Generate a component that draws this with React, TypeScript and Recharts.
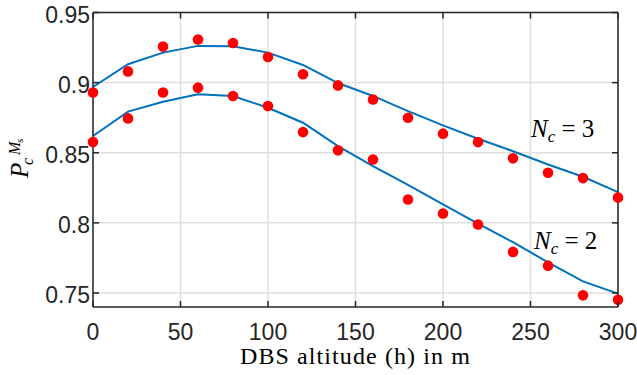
import React from "react";
import { CartesianGrid, Line, LineChart, XAxis, YAxis } from "recharts";

const altitude = [0, 20, 40, 60, 80, 100, 120, 140, 160, 180, 200, 220, 240, 260, 280, 300];

// N_c = 3
const nc3Sim = [0.893, 0.908, 0.9257, 0.9307, 0.9283, 0.9183, 0.906, 0.898, 0.888, 0.875, 0.8636, 0.8576, 0.846, 0.8357, 0.8319, 0.818];
const nc3Ana = [0.8969, 0.9131, 0.9214, 0.9262, 0.926, 0.9214, 0.9126, 0.8997, 0.8905, 0.8797, 0.8695, 0.86, 0.8511, 0.8416, 0.8329, 0.8219];

// N_c = 2
const nc2Sim = [0.8576, 0.8745, 0.893, 0.8964, 0.8905, 0.8833, 0.8647, 0.8517, 0.8452, 0.8167, 0.8067, 0.7988, 0.7793, 0.7695, 0.7483, 0.7452];
const nc2Ana = [0.8619, 0.8793, 0.8864, 0.8917, 0.8905, 0.8821, 0.8714, 0.8547, 0.8404, 0.827, 0.8131, 0.7995, 0.7862, 0.7719, 0.7583, 0.7495];

const xTicks = [0, 50, 100, 150, 200, 250, 300];
const yTicks = [0.75, 0.8, 0.85, 0.9, 0.95];
const yTickLabels = ["0.75", "0.8", "0.85", "0.9", "0.95"];

const AXIS = "#262626";
const BLUE = "#0072BD";
const RED = "#ff0000";
const TICK_FONT = "'Liberation Sans', Arial, sans-serif";
const SERIF = "'Liberation Serif', 'Times New Roman', serif";

const chartData = altitude.map((h, i) => ({
  h,
  nc3Sim: nc3Sim[i],
  nc3Ana: nc3Ana[i],
  nc2Sim: nc2Sim[i],
  nc2Ana: nc2Ana[i],
}));

function BottomTick({ x, y, payload }: any) {
  return (
    <g>
      <line x1={x} y1={y} x2={x} y2={y - 6} stroke={AXIS} strokeWidth={1.5} />
      <text x={x} y={y + 33} textAnchor="middle" fontSize={23} fontFamily={TICK_FONT} fill={AXIS}>
        {payload.value}
      </text>
    </g>
  );
}

function LeftTick({ x, y, payload }: any) {
  const idx = yTicks.indexOf(payload.value);
  return (
    <g>
      <line x1={x} y1={y} x2={x + 6} y2={y} stroke={AXIS} strokeWidth={1.5} />
      <text x={x - 3} y={y + 10} textAnchor="end" fontSize={23} fontFamily={TICK_FONT} fill={AXIS}>
        {idx >= 0 ? yTickLabels[idx] : payload.value}
      </text>
    </g>
  );
}

function TopTick({ x, y }: any) {
  return <line x1={x} y1={y} x2={x} y2={y + 6} stroke={AXIS} strokeWidth={1.5} />;
}

function RightTick({ x, y }: any) {
  return <line x1={x} y1={y} x2={x - 6} y2={y} stroke={AXIS} strokeWidth={1.5} />;
}

function NcLabel({ x, y, n }: { x: number; y: number; n: string }) {
  return (
    <text x={x} y={y} fontFamily={SERIF} fontSize={25} fill="#000">
      <tspan fontStyle="italic">N</tspan>
      <tspan fontStyle="italic" fontSize={17} dy={5}>c</tspan>
      <tspan dy={-5}>{" = " + n}</tspan>
    </text>
  );
}

export default function App() {
  return (
    <div style={{ position: "absolute", left: 0, top: 0, width: 637, height: 375, background: "#fff" }}>
      <LineChart width={637} height={375} data={chartData} margin={{ top: 0, right: 0, bottom: 0, left: 0 }}>
        <CartesianGrid stroke="#dfdfdf" strokeWidth={1.5} horizontalValues={yTicks} verticalValues={xTicks} />
        <XAxis
          dataKey="h"
          type="number"
          domain={[0, 300]}
          ticks={xTicks}
          height={68}
          tickSize={0}
          tickMargin={0}
          tick={<BottomTick />}
          axisLine={{ stroke: AXIS, strokeWidth: 1.5 }}
          tickLine={false}
        />
        <XAxis
          xAxisId="top"
          orientation="top"
          dataKey="h"
          type="number"
          domain={[0, 300]}
          ticks={xTicks}
          height={12.5}
          tickSize={0}
          tickMargin={0}
          tick={<TopTick />}
          axisLine={{ stroke: AXIS, strokeWidth: 1.5 }}
          tickLine={false}
        />
        <YAxis
          type="number"
          domain={[0.74, 0.95]}
          ticks={yTicks}
          width={93}
          tickSize={0}
          tickMargin={0}
          tick={<LeftTick />}
          axisLine={{ stroke: AXIS, strokeWidth: 1.5 }}
          tickLine={false}
          allowDataOverflow
        />
        <YAxis
          yAxisId="right"
          orientation="right"
          type="number"
          domain={[0.74, 0.95]}
          ticks={yTicks}
          width={19}
          tickSize={0}
          tickMargin={0}
          tick={<RightTick />}
          axisLine={{ stroke: AXIS, strokeWidth: 1.5 }}
          tickLine={false}
          allowDataOverflow
        />
        <Line dataKey="nc3Ana" type="linear" stroke={BLUE} strokeWidth={2} dot={false} isAnimationActive={false} />
        <Line dataKey="nc2Ana" type="linear" stroke={BLUE} strokeWidth={2} dot={false} isAnimationActive={false} />
        <Line
          dataKey="nc3Sim"
          stroke="none"
          dot={{ r: 5.3, fill: RED, stroke: "none" }}
          activeDot={false}
          isAnimationActive={false}
        />
        <Line
          dataKey="nc2Sim"
          stroke="none"
          dot={{ r: 5.3, fill: RED, stroke: "none" }}
          activeDot={false}
          isAnimationActive={false}
        />
      </LineChart>
      <svg
        width={637}
        height={375}
        style={{ position: "absolute", left: 0, top: 0, pointerEvents: "none" }}
      >
        <NcLabel x={531} y={137} n="3" />
        <NcLabel x={534} y={249} n="2" />
        <text
          x={355.5}
          y={364}
          textAnchor="middle"
          fontFamily={SERIF}
          fontSize={24}
          letterSpacing={1.1}
          fill="#000"
        >
          DBS altitude (h) in m
        </text>
        <g transform="translate(28,160) rotate(-90)" fontFamily={SERIF} fill="#000" fontStyle="italic">
          <text x={-18} y={0} fontSize={25}>P</text>
          <text x={-5} y={5} fontSize={16}>c</text>
          <text x={5} y={-8} fontSize={16}>M</text>
          <text x={17} y={-5} fontSize={11}>s</text>
        </g>
      </svg>
    </div>
  );
}
